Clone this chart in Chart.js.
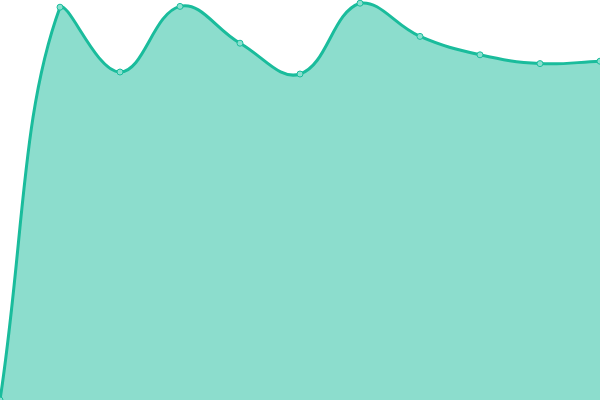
<!DOCTYPE html>
<html><head><meta charset="utf-8">
<style>html,body{margin:0;padding:0;background:#fff}#wrap{width:600px;height:400px}</style>
<script src="https://cdn.jsdelivr.net/npm/chart.js@4/dist/chart.umd.min.js"></script>
</head><body><div id="wrap"><canvas id="c"></canvas></div>
<script>
const labels = ["1","2","3","4","5","6","7","8","9","10","11"];
const values = [0, 98.2, 82, 98.4, 89.2, 81.5, 99.2, 90.9, 86.3, 84.1, 84.7];
new Chart(document.getElementById('c'), {
  type: 'line',
  data: { labels: labels, datasets: [{
    data: values,
    fill: 'origin',
    tension: 0.4,
    borderColor: '#1abc9c',
    backgroundColor: 'rgba(26,188,156,0.5)',
    borderWidth: 3,
    pointRadius: 3,
    pointBorderWidth: 1,
    pointBackgroundColor: '#8ae0cf',
    pointBorderColor: '#1abc9c'
  }]},
  options: {
    responsive: true, maintainAspectRatio: false, animation: false,
    layout: { padding: 0, autoPadding: false },
    plugins: { legend: { display: false }, tooltip: { enabled: false } },
    scales: {
      x: { display: false, offset: false },
      y: { display: false, min: 0, max: 100 }
    }
  }
});
</script></body></html>
